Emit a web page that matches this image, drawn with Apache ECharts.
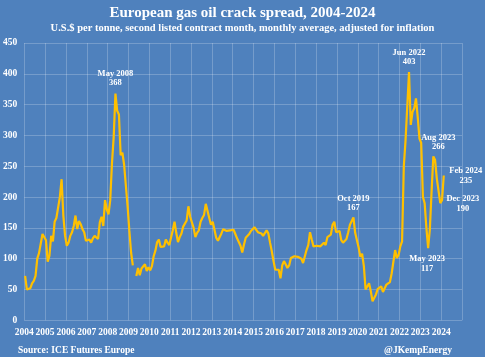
<!DOCTYPE html>
<html><head><meta charset="utf-8">
<script src="https://cdn.jsdelivr.net/npm/echarts@6/dist/echarts.min.js"></script>
<style>html,body{margin:0;padding:0;background:#4f81bd}#c{width:485px;height:357px}</style>
</head><body><div id="c"></div>
<script>
// Monthly crack spread, U.S.$ per tonne (null = missing month)
const v2004 = [72,50,47,52,60,64,72,100,109,112,140,142];
const v2005 = [130,95,105,137,128,160,166,166,200,229,170,137];
const v2006 = [121,126,137,143,153,170,148,161,156,148,143,129];
const v2007 = [126,131,126,133,137,140,132,159,168,153,195,180];
const v2008 = [172,195,255,298,368,340,334,268,272,252,250,185];
const v2009 = [145,110,89,null,72,85,73,84,85,91,80,86];
const v2010 = [81,88,104,113,127,131,119,118,120,131,126,122];
const v2011 = [122,146,160,142,127,135,141,152,152,162,185,168];
const v2012 = [165,150,135,142,146,160,166,171,189,187,166,155];
const v2013 = [160,158,134,129,131,141,148,148,145,146,146,149];
const v2014 = [147,140,133,133,121,110,123,134,136,140,145,144];
const v2015 = [151,154,143,143,141,137,138,146,141,126,112,96];
const v2016 = [82,84,82,68,89,96,91,85,89,101,104,104];
const v2017 = [105,103,100,100,93,93,114,122,143,131,120,121];
const v2018 = [121,123,120,123,126,122,135,136,139,155,160,143];
const v2019 = [143,145,130,126,125,132,143,155,158,167,142,142];
const v2020 = [118,103,108,88,50,49,60,47,31,31,42,51];
const v2021 = [52,55,46,43,58,59,62,76,95,114,101,106];
const v2022 = [120,128,250,292,293,403,317,338,344,360,330,295];
const v2023 = [288,200,190,150,117,148,210,266,260,230,210,190];
const v2024 = [195,235];

const startYear = 2004;
const yearlyValues = [v2004,v2005,v2006,v2007,v2008,v2009,v2010,v2011,v2012,v2013,v2014,v2015,v2016,v2017,v2018,v2019,v2020,v2021,v2022,v2023,v2024];

const xMin = 2004, xMax = 2025, xStep = 1;
const yMin = 0, yMax = 450, yStep = 50;

// Annotations: label, year, month
const notes = [
  ['May 2008', 2008, 5],
  ['Oct 2019', 2019, 10],
  ['Jun 2022', 2022, 6],
  ['May 2023', 2023, 5],
  ['Aug 2023', 2023, 8],
  ['Dec 2023', 2023, 12],
  ['Feb 2024', 2024, 2]
];
const noteOffsets = [[0,-15],[0,-14],[0,-14.5],[-1,15.5],[5,-14],[22.5,0.5],[22,0.5]];

const title = 'European gas oil crack spread, 2004-2024';
const subtitle = 'U.S.$ per tonne, second listed contract month, monthly average, adjusted for inflation';
const source = 'Source: ICE Futures Europe';
const credit = '@JKempEnergy';

const points = [];
yearlyValues.forEach((arr, yi) => {
  arr.forEach((v, mi) => {
    points.push([startYear + yi + (mi + 0.5) / 12, v]);
  });
});

const FONT = "'Liberation Serif', 'DejaVu Serif', serif";
const txt = {color:'#ffffff', fontFamily: FONT, fontWeight:'bold'};

const markData = notes.map((n, i) => {
  const [label, yr, mo] = n;
  const val = yearlyValues[yr - startYear][mo - 1];
  return {
    coord: [yr + (mo - 0.5) / 12, val],
    value: val,
    name: label,
    label: {offset: noteOffsets[i]}
  };
});

const chart = echarts.init(document.getElementById('c'), null, {renderer:'canvas'});
chart.setOption({
  backgroundColor: '#4f81bd',
  animation: false,
  title: [
    {text: title, left: 'center', top: 1, textStyle: Object.assign({fontSize: 15}, txt)},
    {text: subtitle, left: 'center', top: 18, textStyle: Object.assign({fontSize: 10.5}, txt)},
    {text: source, left: 13, top: 341, textStyle: Object.assign({fontSize: 9.5}, txt)},
    {text: credit, right: 28, top: 341, textStyle: Object.assign({fontSize: 9.5}, txt)}
  ],
  grid: {left: 20.7, right: 23, top: 43, bottom: 36.7, containLabel: false},
  xAxis: {
    type: 'value', min: xMin, max: xMax, interval: xStep,
    axisLine: {show: false}, axisTick: {show: false},
    axisLabel: Object.assign({fontSize: 9.5, margin: 7, formatter: v => v === xMax ? '' : String(v)}, txt),
    splitLine: {show: true, lineStyle: {color: 'rgba(255,255,255,0.22)', width: 1}}
  },
  yAxis: {
    type: 'value', min: yMin, max: yMax, interval: yStep,
    axisLine: {show: false}, axisTick: {show: false},
    axisLabel: Object.assign({fontSize: 9.5, margin: 7}, txt),
    splitLine: {show: true, lineStyle: {color: 'rgba(255,255,255,0.22)', width: 1}}
  },
  series: [{
    type: 'line',
    data: points,
    showSymbol: false,
    connectNulls: false,
    lineStyle: {color: '#ffc000', width: 2.2},
    itemStyle: {color: '#ffc000'},
    markPoint: {
      symbol: 'circle', symbolSize: 1,
      itemStyle: {color: 'rgba(0,0,0,0)'},
      label: Object.assign({
        show: true, position: 'inside', fontSize: 8.5, lineHeight: 9.5, align: 'center',
        formatter: p => p.name + '\n' + p.value
      }, txt),
      data: markData
    }
  }]
});
</script>
</body></html>
